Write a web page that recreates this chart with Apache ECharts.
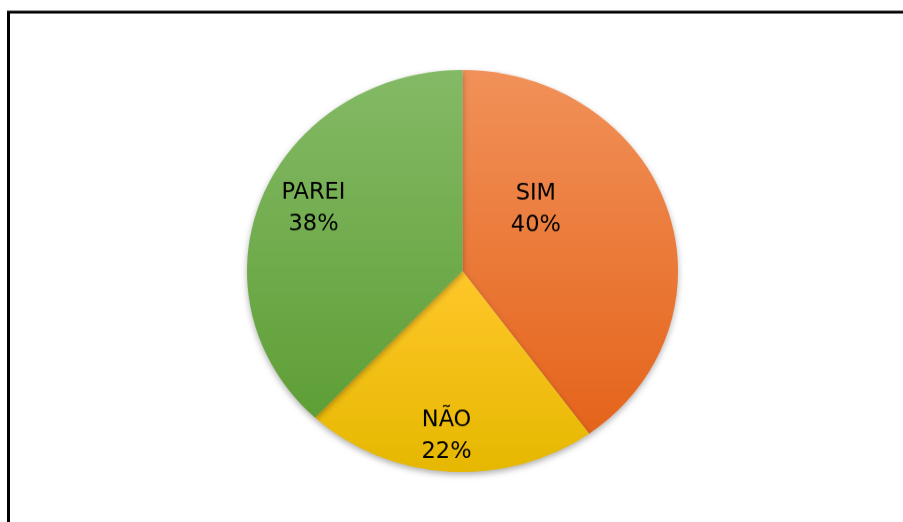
<!DOCTYPE html>
<html>
<head>
<meta charset="utf-8">
<script src="https://cdn.jsdelivr.net/npm/echarts@6/dist/echarts.min.js"></script>
<style>
html, body { margin: 0; padding: 0; background: #fff; overflow: hidden; }
#main { position: absolute; left: 0; top: 0; width: 903px; height: 560px; transform: scaleY(0.9327); transform-origin: 0 0; }
</style>
</head>
<body>
<div id="main"></div>
<script>
var categories = ['SIM', 'NÃO', 'PAREI'];
var values = [40, 22, 38];

// label nudges from the default inside spot (px)
var labelNudge = [[-32, -32], [-9, 66], [-46, -26]];

function grad(top, bottom) {
    return new echarts.graphic.LinearGradient(0, 0, 0, 1, [
        {offset: 0, color: top},
        {offset: 1, color: bottom}
    ]);
}
var sliceFill = [
    grad('#f19159', '#e5641b'),
    grad('#ffc72a', '#e6b800'),
    grad('#84ba66', '#5f9f36')
];

var dom = document.getElementById('main');
var myChart = echarts.init(dom, null, {renderer: 'canvas'});

var option = {
    animation: false,
    backgroundColor: '#fff',
    graphic: [{
        type: 'rect',
        shape: {x: 8.5, y: 12.9, width: 1000, height: 1000},
        style: {fill: 'none', stroke: '#000', lineWidth: 3},
        silent: true
    }],
    series: [{
        type: 'pie',
        center: [462.5, 290.6],
        radius: [0, 215.5],
        startAngle: 90,
        clockwise: true,
        silent: true,
        data: categories.map(function (name, i) {
            return {name: name, value: values[i], itemStyle: {color: sliceFill[i]}};
        }),
        itemStyle: {
            borderWidth: 0,
            shadowBlur: 6,
            shadowOffsetY: 3,
            shadowColor: 'rgba(0,0,0,0.3)'
        },
        label: {
            show: true,
            position: 'inside',
            formatter: '{b}\n{d}%',
            color: '#000',
            fontSize: 25,
            lineHeight: 34,
            fontFamily: "'Liberation Sans Narrow', 'DejaVu Sans Condensed', sans-serif",
            align: 'center'
        },
        labelLine: {show: false},
        labelLayout: function (params) {
            var n = labelNudge[params.dataIndex];
            return {dx: n[0], dy: n[1]};
        }
    }]
};
myChart.setOption(option);
</script>
</body>
</html>
